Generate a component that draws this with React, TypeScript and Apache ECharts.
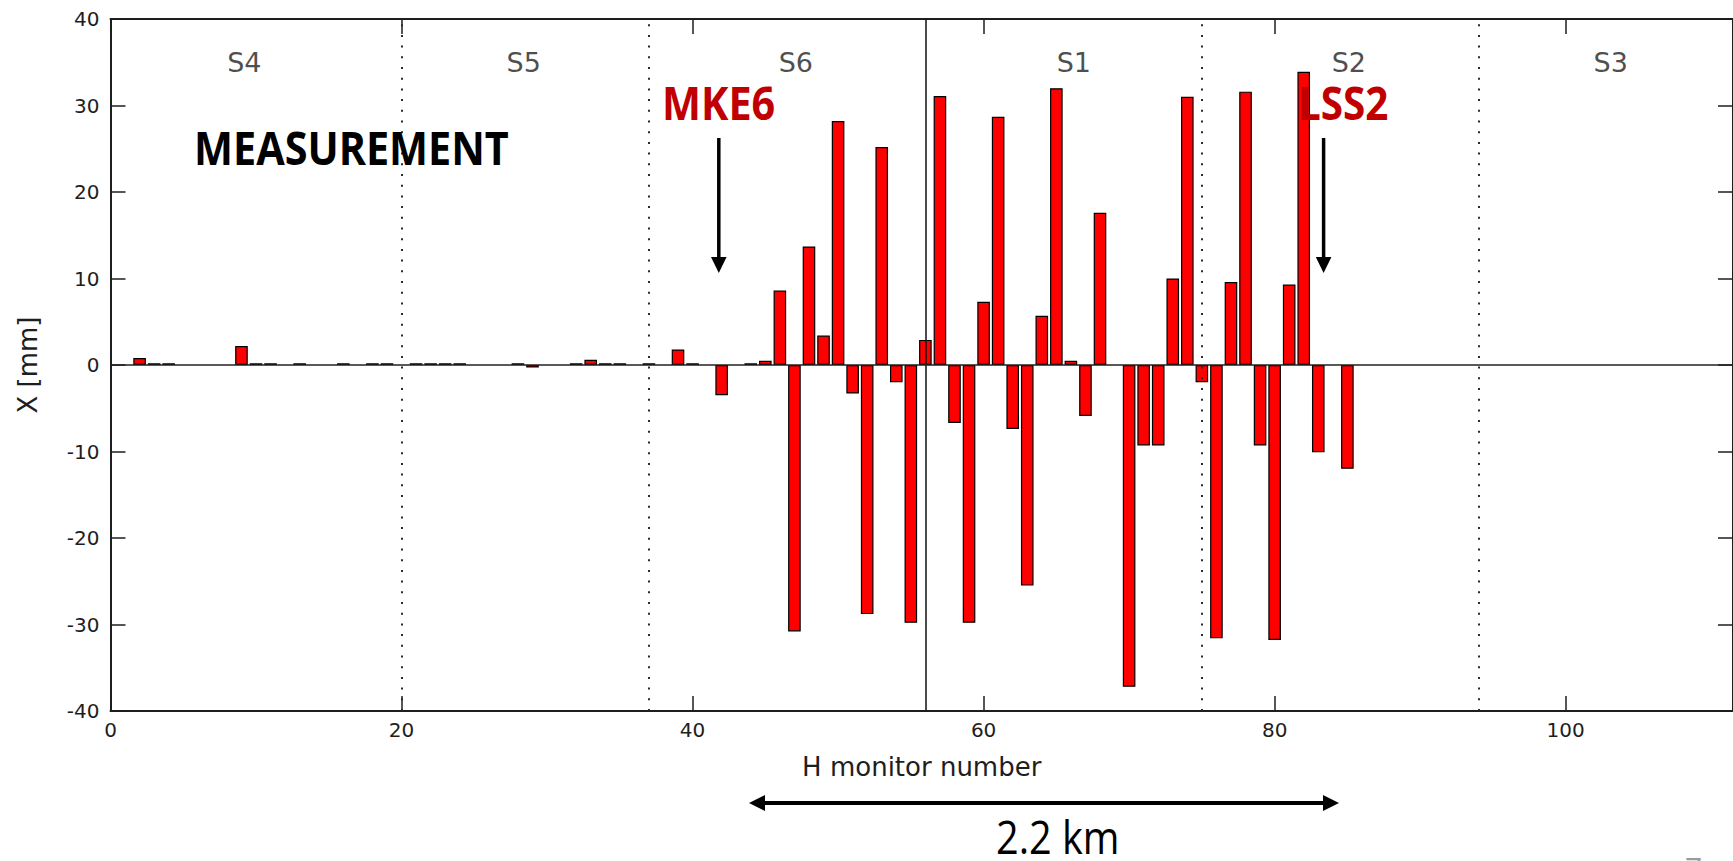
import React, { useEffect, useRef } from "react";
import * as echarts from "echarts";

// ---- data ----
const monitors = [2, 3, 4, 9, 10, 11, 13, 16, 18, 19, 21, 22, 23, 24, 28, 29, 32, 33, 34, 35, 37, 39, 40, 42, 44, 45, 46, 47, 48, 49, 50, 51, 52, 53, 54, 55, 56, 57, 58, 59, 60, 61, 62, 63, 64, 65, 66, 67, 68, 70, 71, 72, 73, 74, 75, 76, 77, 78, 79, 80, 81, 82, 83, 85];
const xValuesMm = [0.8, 0.2, 0.2, 2.2, 0.2, 0.2, 0.2, 0.2, 0.2, 0.2, 0.2, 0.2, 0.2, 0.2, 0.2, -0.3, 0.2, 0.6, 0.2, 0.2, 0.2, 1.8, 0.2, -3.5, 0.2, 0.5, 8.6, -30.8, 13.7, 3.4, 28.2, -3.3, -28.8, 25.2, -2.0, -29.8, 2.9, 31.1, -6.7, -29.8, 7.3, 28.7, -7.4, -25.5, 5.7, 32.0, 0.5, -5.9, 17.6, -37.2, -9.3, -9.3, 10.0, 31.0, -2.0, -31.6, 9.6, 31.6, -9.3, -31.8, 9.3, 33.9, -10.1, -12.0];

const sectionNames = ["S4", "S5", "S6", "S1", "S2", "S3"];
const sectionLabelX = [9.2, 28.4, 47.1, 66.2, 85.1, 103.1];
const sectionLabelY = 35;
const sectionBoundaries = [20, 37, 75, 94];
const injectionLine = 56;

const xTicks = [0, 20, 40, 60, 80, 100];
const yTicks = [-40, -30, -20, -10, 0, 10, 20, 30, 40];

const MATLAB_FONT = "'DejaVu Sans', sans-serif";
const AXIS_COLOR = "#1e1e1e";

export default function App() {
  const ref = useRef<HTMLDivElement>(null);

  useEffect(() => {
    if (!ref.current) return;
    const chart = echarts.init(ref.current, null, { renderer: "svg" });

    const axisCommon = {
      axisLine: { show: true, onZero: false, lineStyle: { color: AXIS_COLOR, width: 2 } },
      axisTick: { show: true, inside: true, length: 15, lineStyle: { color: AXIS_COLOR, width: 1.5 } },
      splitLine: { show: false },
    };

    const option: any = {
      animation: false,
      backgroundColor: "#fff",
      grid: { left: 110.5, top: 19, right: 0, height: 692, containLabel: false },
      xAxis: [
        {
          type: "value",
          min: xTicks[0],
          max: 111.5,
          interval: 20,
          position: "bottom",
          ...axisCommon,
          axisLabel: {
            color: AXIS_COLOR,
            fontFamily: MATLAB_FONT,
            fontSize: 20,
            margin: 9,
            showMaxLabel: false,
            formatter: (v: number) => (xTicks.includes(v) ? String(v) : ""),
          },
          name: "H monitor number",
          nameLocation: "middle",
          nameGap: 43,
          nameTextStyle: { color: AXIS_COLOR, fontFamily: MATLAB_FONT, fontSize: 26 },
        },
        {
          type: "value",
          min: xTicks[0],
          max: 111.5,
          interval: 20,
          position: "top",
          ...axisCommon,
          axisLabel: { show: false },
        },
      ],
      yAxis: [
        {
          type: "value",
          min: yTicks[0],
          max: yTicks[yTicks.length - 1],
          interval: 10,
          position: "left",
          ...axisCommon,
          axisLabel: { color: AXIS_COLOR, fontFamily: MATLAB_FONT, fontSize: 20, margin: 11 },
          name: "X [mm]",
          nameLocation: "middle",
          nameGap: 70,
          nameRotate: 90,
          nameTextStyle: { color: AXIS_COLOR, fontFamily: MATLAB_FONT, fontSize: 26 },
        },
        {
          type: "value",
          min: yTicks[0],
          max: yTicks[yTicks.length - 1],
          interval: 10,
          position: "right",
          ...axisCommon,
          axisLabel: { show: false },
        },
      ],
      series: [
        {
          type: "bar",
          xAxisIndex: 0,
          yAxisIndex: 0,
          barWidth: 12.6,
          data: monitors.map((m, i) => [m, xValuesMm[i]]),
          itemStyle: { color: "#ff0000", borderColor: "#000", borderWidth: 1.2 },
          silent: true,
          markLine: {
            silent: true,
            symbol: "none",
            label: { show: false },
            z: 5,
            data: [
              ...sectionBoundaries.map((b) => ({
                xAxis: b,
                lineStyle: { type: [2, 8.7], color: "#2a2a2a", width: 2 },
              })),
              { xAxis: injectionLine, lineStyle: { type: "solid", color: "#111", width: 1.5 } },
              { yAxis: 0, lineStyle: { type: "solid", color: "#222", width: 1.5 } },
            ],
          },
        },
        {
          type: "scatter",
          xAxisIndex: 0,
          yAxisIndex: 0,
          symbolSize: 0,
          silent: true,
          data: sectionNames.map((n, i) => [sectionLabelX[i], sectionLabelY, n]),
          label: {
            show: true,
            position: "inside",
            formatter: (p: any) => p.data[2],
            color: AXIS_COLOR,
            fontFamily: MATLAB_FONT,
            fontSize: 27,
          },
        },
      ],
      graphic: [
        {
          type: "text",
          x: 194,
          y: 147,
          scaleX: 0.88,
          z: 100,
          style: {
            text: "MEASUREMENT",
            fill: "#000",
            fontFamily: "'Open Sans', sans-serif",
            fontWeight: "bold",
            fontSize: 47,
            align: "left",
            verticalAlign: "middle",
          },
        },
        {
          type: "text",
          x: 662,
          y: 102,
          scaleX: 0.88,
          z: 100,
          style: {
            text: "MKE6",
            fill: "#c00000",
            fontFamily: "'Open Sans', sans-serif",
            fontWeight: "bold",
            fontSize: 47,
            align: "left",
            verticalAlign: "middle",
          },
        },
        {
          type: "text",
          x: 1298,
          y: 102,
          scaleX: 0.86,
          z: 100,
          style: {
            text: "LSS2",
            fill: "#c00000",
            fontFamily: "'Open Sans', sans-serif",
            fontWeight: "bold",
            fontSize: 47,
            align: "left",
            verticalAlign: "middle",
          },
        },
        // MKE6 arrow
        { type: "line", z: 100, shape: { x1: 718.8, y1: 138, x2: 718.8, y2: 262 }, style: { stroke: "#000", lineWidth: 3.5 } },
        { type: "polygon", z: 100, shape: { points: [[711, 257], [726.6, 257], [718.8, 273]] }, style: { fill: "#000" } },
        // LSS2 arrow
        { type: "line", z: 100, shape: { x1: 1323.6, y1: 138, x2: 1323.6, y2: 262 }, style: { stroke: "#000", lineWidth: 3.5 } },
        { type: "polygon", z: 100, shape: { points: [[1315.8, 257], [1331.4, 257], [1323.6, 273]] }, style: { fill: "#000" } },
        // 2.2 km double arrow
        { type: "line", z: 100, shape: { x1: 760, y1: 803, x2: 1328, y2: 803 }, style: { stroke: "#000", lineWidth: 4 } },
        { type: "polygon", z: 100, shape: { points: [[749, 803], [765, 795], [765, 811]] }, style: { fill: "#000" } },
        { type: "polygon", z: 100, shape: { points: [[1339, 803], [1323, 795], [1323, 811]] }, style: { fill: "#000" } },
        {
          type: "text",
          x: 996,
          y: 836,
          scaleX: 0.88,
          z: 100,
          style: {
            text: "2.2 km",
            fill: "#000",
            fontFamily: "'Open Sans', sans-serif",
            fontSize: 45,
            align: "left",
            verticalAlign: "middle",
          },
        },
        {
          type: "text",
          x: 1685,
          y: 852,
          z: 100,
          style: {
            text: "7",
            fill: "#9a9a9a",
            fontFamily: "'Open Sans', sans-serif",
            fontSize: 30,
            align: "left",
            verticalAlign: "top",
          },
        },
      ],
    };

    chart.setOption(option);
    return () => chart.dispose();
  }, []);

  return (
    <div
      ref={ref}
      style={{ position: "fixed", left: 0, top: 0, width: 1733, height: 861, background: "#fff" }}
    />
  );
}
